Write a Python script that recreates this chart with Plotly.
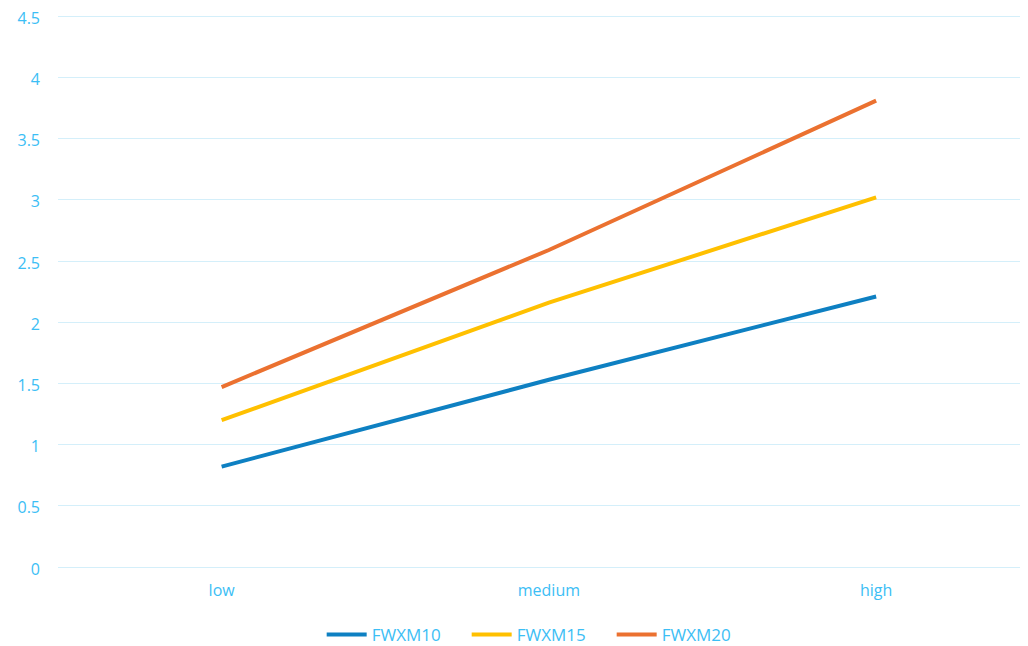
import plotly.graph_objects as go

categories = ["low", "medium", "high"]
fwxm10 = [0.82, 1.53, 2.21]
fwxm15 = [1.20, 2.16, 3.02]
fwxm20 = [1.47, 2.59, 3.81]
y_ticks = [0, 0.5, 1, 1.5, 2, 2.5, 3, 3.5, 4, 4.5]
y_tick_text = ["0", "0.5", "1", "1.5", "2", "2.5", "3", "3.5", "4", "4.5"]

series = [("FWXM10", fwxm10, "#0E80C2"),
          ("FWXM15", fwxm15, "#FFC000"),
          ("FWXM20", fwxm20, "#EB7130")]

txt = "#3CBEF5"
fig = go.Figure()
for name, vals, col in series:
    fig.add_trace(go.Scatter(x=categories, y=vals, name=name, mode="lines",
                             line=dict(color=col, width=4)))

fig.update_layout(
    width=1028, height=646,
    margin=dict(l=50, r=0, t=7, b=87, autoexpand=False),
    paper_bgcolor="white", plot_bgcolor="white",
    font=dict(family="Open Sans, Liberation Sans, sans-serif", size=17, color=txt),
    showlegend=True,
    legend=dict(orientation="h", x=0.492, xanchor="center", y=-0.123, yanchor="middle",
                font=dict(size=17, color=txt), itemwidth=40, tracegroupgap=0,
                entrywidth=90, entrywidthmode="pixels"),
    xaxis=dict(type="category", range=[-0.5, 2.4885], showgrid=False, zeroline=False,
               showline=False, ticks="", ticklabelstandoff=12, automargin=False,
               tickfont=dict(size=16, color=txt)),
    yaxis=dict(range=[0, 4.51], tickvals=y_ticks, ticktext=y_tick_text,
               showgrid=True, ticklabeloverflow="allow", ticklabelshift=2,
               gridcolor="#D4EFFA", gridwidth=1, zeroline=True, zerolinecolor="#D4EFFA",
               zerolinewidth=1, showline=False, ticks="", ticklabelstandoff=17,
               automargin=False, tickfont=dict(size=16, color=txt)),
)

fig.write_html("out.html")
